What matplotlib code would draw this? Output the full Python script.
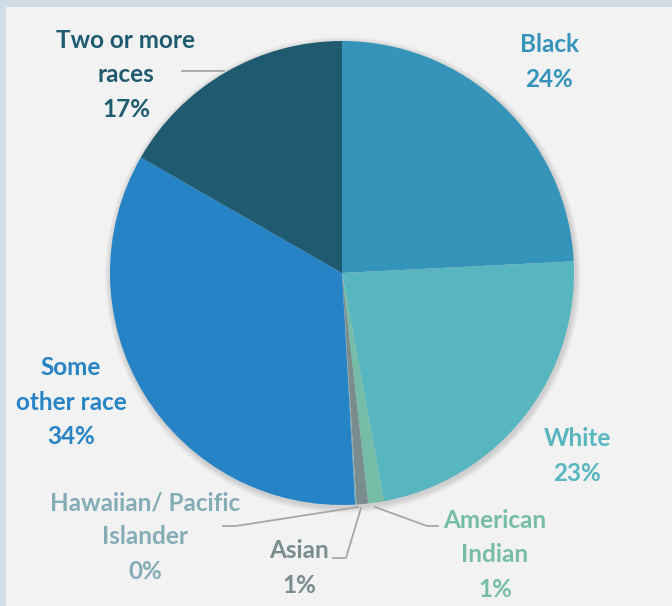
import matplotlib.pyplot as plt
from matplotlib.patches import Circle, Rectangle

categories = ["Black", "White", "American\nIndian", "Asian", "Hawaiian/ Pacific\nIslander",
              "Some\nother race", "Two or more\nraces"]
values = [24.2, 22.9, 1.1, 0.8, 0.1, 34.2, 16.7]
colors = ["#3494BA", "#58B6C0", "#75BDA7", "#7A8C8E", "#84ACB6", "#2683C6", "#1F5B70"]

W, H = 672, 606
plt.rcParams["font.family"] = ["Lato", "DejaVu Sans"]

fig = plt.figure(figsize=(W / 100, H / 100), dpi=100)
fig.patch.set_facecolor("#D0DCE6")
ax = fig.add_axes([0, 0, 1, 1])

# inner panel
ax.add_patch(Rectangle((6, 0), W - 6, H - 7, facecolor="#F2F2F2", edgecolor="none", zorder=0))

cx, cy, r = 342, H - 273, 232

# soft shadow
for i in range(6):
    ax.add_patch(Circle((cx + 1, cy - 2), r + 6 - i, facecolor="black", alpha=0.025, edgecolor="none", zorder=1))

wedges, _ = ax.pie(values, colors=colors, startangle=90, counterclock=False,
                   center=(cx, cy), radius=r, frame=True,
                   wedgeprops=dict(linewidth=0, zorder=2))
ax.set_xlim(0, W)
ax.set_ylim(0, H)
ax.set_aspect("equal")
ax.axis("off")


def px(x, y):
    return x, H - y


label_pos = [(549, 62), (577, 456), (495, 555), (299, 568), (145, 537), (71, 402), (126, 75)]
for name, v, c, (lx, ly) in zip(categories, values, colors, label_pos):
    ax.text(*px(lx, ly), f"{name}\n{round(v)}%", color=c, ha="center", va="center",
            fontsize=17.5, fontweight="bold", linespacing=1.6, zorder=5)

leaders = [
    [(182, 71), (224, 71)],
    [(223, 526), (236, 526), (358, 507)],
    [(333, 558), (346, 558), (361, 508)],
    [(375, 507), (427, 526), (438, 526)],
]
for pts in leaders:
    xs = [p[0] for p in pts]
    ys = [H - p[1] for p in pts]
    ax.plot(xs, ys, color="#A6A6A6", lw=1.3, zorder=4)

fig.savefig("out.png", dpi=100, facecolor=fig.get_facecolor())
